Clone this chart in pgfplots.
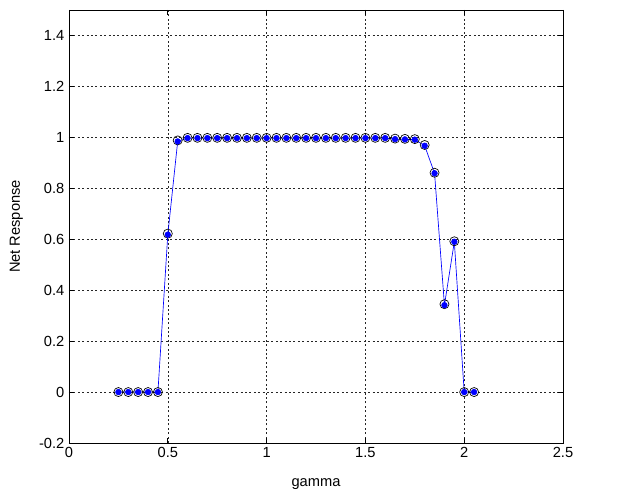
\documentclass[border=0pt]{standalone}
\usepackage{pgfplots}
\pgfplotsset{compat=1.18}
\usepackage{fontspec}
\setmainfont{Liberation Sans}
\begin{document}
\begin{tikzpicture}
\path[use as bounding box] (-51.75pt,-36pt) rectangle (419.25pt,332.25pt);
\begin{axis}[
  at={(0,0)}, anchor=south west,
  scale only axis, width=370.5pt, height=324.75pt,
  xmin=0, xmax=2.5, ymin=-0.2, ymax=1.5,
  xtick={0,0.5,1,1.5,2,2.5},
  xticklabels={0,0.5,1,1.5,2,2.5},
  ytick={-0.2,0,0.2,0.4,0.6,0.8,1,1.2,1.4},
  yticklabels={-0.2,0,0.2,0.4,0.6,0.8,1,1.2,1.4},
  tick align=inside, tickpos=both, major tick length=3.5pt,
  tick style={black, line width=0.5pt},
  axis line style={line width=0.6pt},
  grid=major,
  major grid style={black!85, line width=0.45pt, dash pattern=on 1.5pt off 1.8pt},
  ticklabel style={font=\fontsize{11}{13}\selectfont},
  xlabel={gamma}, ylabel={Net Response},
  label style={font=\fontsize{11}{13}\selectfont},
  xlabel style={at={(axis description cs:0.5,0)}, anchor=north, yshift=-23pt},
  ylabel style={at={(axis description cs:0,0.5)}, anchor=south, yshift=31pt},
  /pgf/number format/assume math mode=true,
  clip=false,
]
\addplot[black, line width=0.5pt, only marks, mark=o, mark size=3.4pt] coordinates {
(0.25,0) (0.30,0) (0.35,0) (0.40,0) (0.45,0) (0.50,0.622) (0.55,0.988)
(0.60,0.998) (0.65,0.998) (0.70,0.998) (0.75,0.998) (0.80,0.998) (0.85,0.998)
(0.90,0.998) (0.95,0.998) (1.00,0.998) (1.05,0.998) (1.10,0.998) (1.15,0.998)
(1.20,0.998) (1.25,0.998) (1.30,0.998) (1.35,0.998) (1.40,0.998) (1.45,0.998)
(1.50,0.998) (1.55,0.998) (1.60,0.998) (1.65,0.995) (1.70,0.994) (1.75,0.993)
(1.80,0.970) (1.85,0.861) (1.90,0.345) (1.95,0.592) (2.00,0) (2.05,0)
};
\addplot[blue, line width=0.5pt, mark=*, mark size=2.1pt, mark options={fill=blue, draw=blue}] coordinates {
(0.25,0) (0.30,0) (0.35,0) (0.40,0) (0.45,0) (0.50,0.618) (0.55,0.984)
(0.60,0.997) (0.65,0.997) (0.70,0.997) (0.75,0.997) (0.80,0.997) (0.85,0.997)
(0.90,0.997) (0.95,0.997) (1.00,0.997) (1.05,0.997) (1.10,0.997) (1.15,0.997)
(1.20,0.997) (1.25,0.997) (1.30,0.997) (1.35,0.997) (1.40,0.997) (1.45,0.997)
(1.50,0.997) (1.55,0.997) (1.60,0.997) (1.65,0.993) (1.70,0.992) (1.75,0.991)
(1.80,0.967) (1.85,0.859) (1.90,0.341) (1.95,0.590) (2.00,0) (2.05,0)
};
\end{axis}
\end{tikzpicture}
\end{document}
